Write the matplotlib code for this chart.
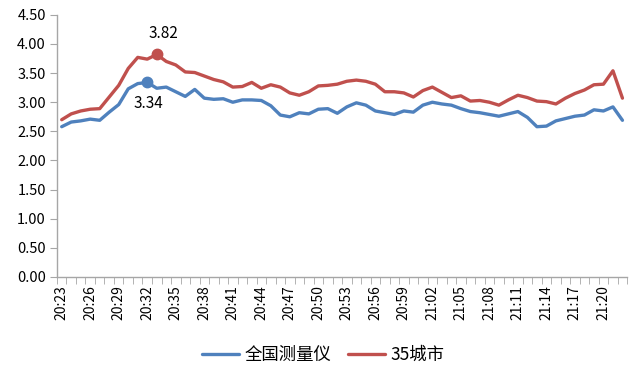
"""
Plot the per-minute index chart (national vs 35 cities).
"""
import numpy as np
from matplotlib import pyplot as plt, ticker

# 20:23 .. 21:22, one point per minute
times = ["%d:%02d" % ((20 * 60 + 23 + i) // 60, (20 * 60 + 23 + i) % 60) for i in range(60)]

national = [2.58, 2.66, 2.68, 2.71, 2.69, 2.83, 2.96, 3.23, 3.32, 3.34,
            3.24, 3.26, 3.18, 3.10, 3.22, 3.07, 3.05, 3.06, 3.00, 3.04,
            3.04, 3.03, 2.94, 2.78, 2.75, 2.82, 2.80, 2.88, 2.89, 2.81,
            2.92, 2.99, 2.95, 2.85, 2.82, 2.79, 2.85, 2.83, 2.95, 3.00,
            2.97, 2.95, 2.89, 2.84, 2.82, 2.79, 2.76, 2.80, 2.84, 2.74,
            2.58, 2.59, 2.68, 2.72, 2.76, 2.78, 2.87, 2.85, 2.92, 2.69]

cities35 = [2.70, 2.80, 2.85, 2.88, 2.89, 3.09, 3.29, 3.58, 3.77, 3.74,
            3.82, 3.70, 3.64, 3.52, 3.51, 3.45, 3.39, 3.35, 3.26, 3.27,
            3.34, 3.24, 3.30, 3.26, 3.16, 3.12, 3.18, 3.28, 3.29, 3.31,
            3.36, 3.38, 3.36, 3.31, 3.18, 3.18, 3.16, 3.09, 3.20, 3.26,
            3.17, 3.08, 3.11, 3.02, 3.03, 3.00, 2.95, 3.04, 3.12, 3.08,
            3.02, 3.01, 2.97, 3.07, 3.15, 3.21, 3.30, 3.31, 3.54, 3.07]

series_names = ["全国测量仪", "35城市"]

BLUE = '#4F81BD'
RED = '#C0504D'
AXIS_GREY = '#A6A6A6'


def index_plot():
    plt.rcParams['font.family'] = ['Noto Sans CJK SC', 'DejaVu Sans']
    fig = plt.figure(figsize=(6.4, 3.81), dpi=100)
    ax = fig.add_axes([0.089, 0.273, 0.891, 0.688])

    x = np.arange(len(times))
    l1, = ax.plot(x, national, color=BLUE, linewidth=2.4, solid_capstyle='round')
    l2, = ax.plot(x, cities35, color=RED, linewidth=2.4, solid_capstyle='round')

    # mark the peaks
    bi = int(np.argmax(national))
    ri = int(np.argmax(cities35))
    ax.plot(bi, national[bi], 'o', color=BLUE, markersize=7.5)
    ax.plot(ri, cities35[ri], 'o', color=RED, markersize=7.5)
    ax.annotate("%.2f" % cities35[ri], (ri, cities35[ri]), xytext=(5, 15),
                textcoords='offset points', ha='center', va='center', fontsize=11)
    ax.annotate("%.2f" % national[bi], (bi, national[bi]), xytext=(1, -15),
                textcoords='offset points', ha='center', va='center', fontsize=11)

    ax.set_xlim(-0.5, len(times) - 0.5)
    ax.set_ylim(0, 4.5)
    ax.yaxis.set_major_locator(ticker.MultipleLocator(0.5))
    ax.yaxis.set_major_formatter(ticker.FormatStrFormatter('%.2f'))

    # labels every 3 minutes, tick marks at category borders
    ax.set_xticks(x[::3])
    ax.set_xticklabels(times[::3], rotation=90)
    ax.set_xticks(np.arange(-0.5, len(times)), minor=True)
    ax.tick_params(axis='x', which='major', length=0, pad=6, labelsize=10)
    ax.tick_params(axis='x', which='minor', length=5, color=AXIS_GREY, direction='out')
    ax.tick_params(axis='y', length=5, color=AXIS_GREY, labelsize=10.5, pad=3)

    for side in ['top', 'right']:
        ax.spines[side].set_visible(False)
    for side in ['left', 'bottom']:
        ax.spines[side].set_color(AXIS_GREY)
        ax.spines[side].set_linewidth(1)

    fig.legend([l1, l2], series_names, loc='center', bbox_to_anchor=(0.505, 0.068),
               ncol=2, frameon=False, fontsize=12.5, handlelength=2.1,
               columnspacing=1.0, handletextpad=0.3)

    plt.savefig('out.png', dpi=100)


if __name__ == "__main__":
    index_plot()
